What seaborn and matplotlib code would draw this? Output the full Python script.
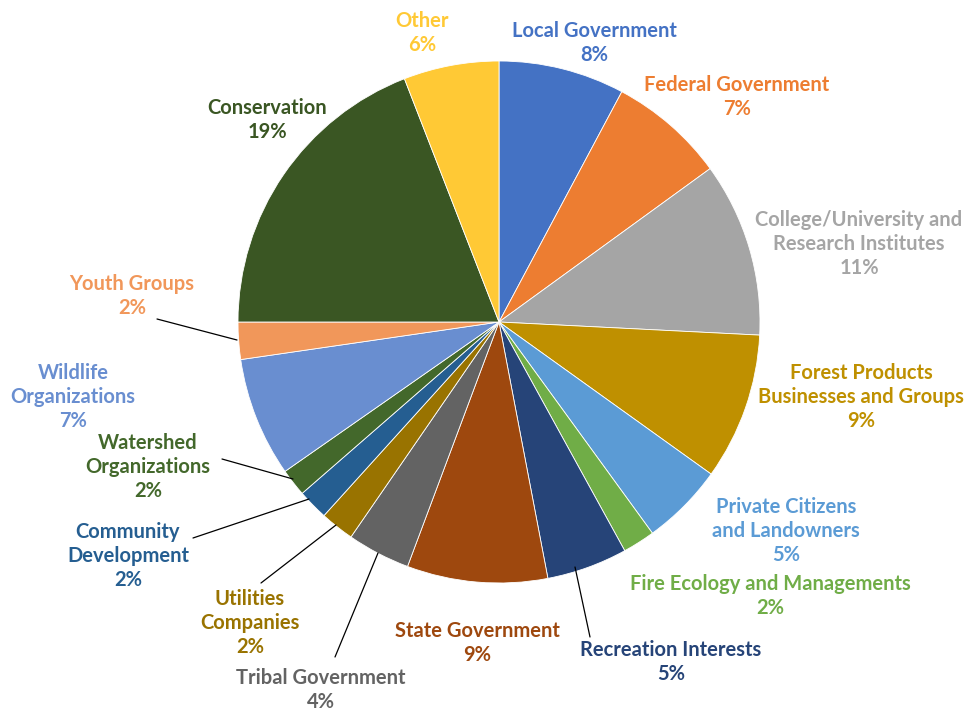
import matplotlib
matplotlib.use("Agg")
import matplotlib.pyplot as plt
import seaborn as sns

# ---- data ----
categories = [
    "Local Government", "Federal Government",
    "College/University and\nResearch Institutes",
    "Forest Products\nBusinesses and Groups",
    "Private Citizens\nand Landowners",
    "Fire Ecology and Managements", "Recreation Interests",
    "State Government", "Tribal Government",
    "Utilities\nCompanies", "Community\nDevelopment",
    "Watershed\nOrganizations", "Wildlife\nOrganizations",
    "Youth Groups", "Conservation", "Other",
]
shares = [7.8, 7.2, 10.8, 9.1, 5.1, 2.0, 5.0, 8.7, 3.9, 2.1, 1.9, 1.7, 7.4, 2.3, 19.1, 5.9]
colors = [
    "#4472C4", "#ED7D31", "#A5A5A5", "#BF9000", "#5B9BD5", "#70AD47",
    "#264478", "#9E480E", "#636363", "#997300", "#255E91", "#43682B",
    "#698ED0", "#F1975A", "#3A5623", "#FFC935",
]
text_colors = [
    "#4472C4", "#ED7D31", "#A5A5A5", "#BF9000", "#5B9BD5", "#70AD47",
    "#264478", "#9E480E", "#636363", "#997300", "#255E91", "#43682B",
    "#698ED0", "#F1975A", "#3A5623", "#FFC935",
]

# ---- layout (pixel positions of label centres and leader-line ends) ----
CX, CY, R = 499, 322, 261
W, H = 965, 711
label_px = [
    (594, 43), (737, 97), (859, 244), (861, 397), (786, 531), (770, 596),
    (671, 662), (477, 643), (321, 690), (250, 623), (128, 556), (148, 467),
    (73, 397), (132, 296), (267, 120), (422, 33),
]
leaders = {
    13: ((157, 319), (237, 340)),
    11: ((222, 459), (293, 479)),
    10: ((193, 538), (309, 499)),
    9: ((261, 583), (336, 525)),
    8: ((335, 657), (378, 553)),
    6: ((590, 637), (575, 567)),
}


def to_data(p):
    return ((p[0] - CX) / R, (CY - p[1]) / R)


sns.set_style("white")
plt.rcParams["font.family"] = ["Lato", "DejaVu Sans"]

fig = plt.figure(figsize=(W / 100, H / 100), dpi=100)
ax = fig.add_axes([0, 0, 1, 1])
ax.pie(shares, colors=colors, startangle=90, counterclock=False, radius=1,
       wedgeprops=dict(linewidth=0.6, edgecolor="white"))
ax.set_xlim(-CX / R, (W - CX) / R)
ax.set_ylim((CY - H) / R, CY / R)
ax.set_aspect("auto")
ax.axis("off")

for i, (name, v) in enumerate(zip(categories, shares)):
    x, y = to_data(label_px[i])
    ax.text(x, y, f"{name}\n{round(v)}%", ha="center", va="center",
            color=text_colors[i], fontsize=14.5, fontweight="bold",
            linespacing=1.22)

for i, (a, b) in leaders.items():
    xa, ya = to_data(a)
    xb, yb = to_data(b)
    ax.plot([xa, xb], [ya, yb], color="black", lw=0.9)

fig.savefig("out.png", dpi=100, facecolor="white")
